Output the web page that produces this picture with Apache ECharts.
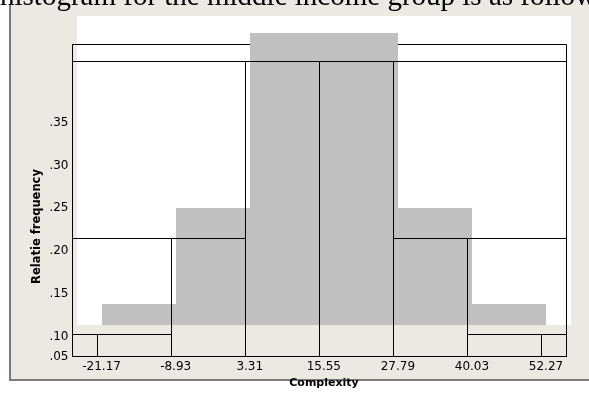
<!DOCTYPE html>
<html>
<head>
<meta charset="utf-8" />
<title>Relatie frequency - Complexity</title>
<script src="https://cdn.jsdelivr.net/npm/echarts@6/dist/echarts.min.js"></script>
<style>
  html, body { margin: 0; padding: 0; background: #fff; }
  #chart { width: 589px; height: 394px; }
</style>
</head>
<body>
<div id="chart"></div>
<script>
// bin edges (Complexity)
const binEdges = [-21.17, -8.93, 3.31, 15.55, 27.79, 40.03, 52.27];
// relative frequency of each bin
const relFreq = [0.102, 0.215, 0.4215, 0.4215, 0.215, 0.102];
// tick values on the y axis, the bottom one is labelled ".05"
const yTicks = [0.10, 0.15, 0.20, 0.25, 0.30, 0.35];
const yBottomLabel = ".05";

// axis extents, shared by the grey copy and the outlined copy
const xRange = [-25.235, 56.4];
const yRange = [0.0766, 0.4417];

const bins = relFreq.map((f, i) => [binEdges[i], binEdges[i + 1], f]);

const crisp = (v) => Math.round(v - 0.5) + 0.5;

const myChart = echarts.init(document.getElementById("chart"));

const option = {
  backgroundColor: "#fff",
  animation: false,
  graphic: [
    // beige panel with its grey shadow lines
    {
      type: "rect",
      z: -10,
      shape: { x: 11, y: 0, width: 578, height: 379 },
      style: { fill: "#ece9e3" },
    },
    {
      type: "line",
      shape: { x1: 10, y1: 4.5, x2: 10, y2: 381 },
      style: { stroke: "#7a7a7a", lineWidth: 2 },
    },
    {
      type: "line",
      shape: { x1: 9, y1: 380, x2: 589, y2: 380 },
      style: { stroke: "#7a7a7a", lineWidth: 2 },
    },
    {
      type: "text",
      x: 0,
      y: -2.5,
      style: {
        text: "histogram for the middle income group is as follows",
        font: '29px "Liberation Serif"',
        fill: "#000",
        align: "left",
        verticalAlign: "middle",
      },
    },
    {
      type: "text",
      x: 37.5,
      y: 226.5,
      rotation: Math.PI / 2,
      style: {
        text: "Relatie frequency",
        font: 'bold 11.5px "DejaVu Sans"',
        fill: "#000",
        align: "center",
        verticalAlign: "middle",
      },
    },
  ],
  grid: [
    {
      // white plot area of the grey histogram
      show: true,
      left: 77,
      top: 16,
      width: 494,
      height: 311,
      backgroundColor: "#fff",
      borderWidth: 0,
    },
    {
      // outlined frame
      show: true,
      left: 72.5,
      top: 44.5,
      width: 494,
      height: 312,
      backgroundColor: "transparent",
      borderColor: "#000",
      borderWidth: 1,
    },
  ],
  xAxis: [
    {
      type: "value",
      gridIndex: 0,
      min: xRange[0],
      max: xRange[1],
      axisLine: { show: false },
      axisTick: { show: false },
      splitLine: { show: false },
      axisLabel: {
        customValues: binEdges,
        margin: 36,
        color: "#000",
        fontFamily: "DejaVu Sans",
        fontSize: 12,
        formatter: (v) => v.toFixed(2),
      },
      name: "Complexity",
      nameLocation: "middle",
      nameGap: 53,
      nameTextStyle: {
        color: "#000",
        fontFamily: "DejaVu Sans",
        fontWeight: "bold",
        fontSize: 11,
      },
    },
    {
      type: "value",
      gridIndex: 1,
      min: xRange[0],
      max: xRange[1],
      show: false,
    },
  ],
  yAxis: [
    {
      type: "value",
      gridIndex: 0,
      min: yRange[0],
      max: yRange[1],
      show: false,
    },
    {
      type: "value",
      gridIndex: 1,
      min: yRange[0],
      max: yRange[1],
      axisLine: { show: false },
      axisTick: { show: false },
      splitLine: { show: false },
      axisLabel: {
        customValues: [yRange[0]].concat(yTicks),
        margin: 4,
        color: "#000",
        fontFamily: "DejaVu Sans",
        fontSize: 12,
        formatter: (v) =>
          v === yRange[0] ? yBottomLabel : v.toFixed(2).replace(/^0/, ""),
      },
    },
  ],
  series: [
    {
      // grey filled bars
      type: "custom",
      xAxisIndex: 0,
      yAxisIndex: 0,
      encode: { x: [0, 1], y: 2 },
      data: bins,
      renderItem: (params, api) => {
        const p0 = api.coord([api.value(0), yRange[0]]);
        const p1 = api.coord([api.value(1), api.value(2)]);
        const x0 = Math.round(p0[0]);
        const x1 = Math.round(p1[0]);
        const top = Math.round(p1[1]);
        const bottom = Math.round(p0[1]);
        return {
          type: "rect",
          shape: { x: x0, y: top, width: x1 - x0, height: bottom - top },
          style: { fill: "#c0c0c0" },
        };
      },
    },
    {
      // black outlined copy, each bar top also runs out to the frame side
      type: "custom",
      xAxisIndex: 1,
      yAxisIndex: 1,
      encode: { x: [0, 1], y: 2 },
      data: bins,
      z: 5,
      renderItem: (params, api) => {
        const cs = params.coordSys;
        const p0 = api.coord([api.value(0), yRange[0]]);
        const p1 = api.coord([api.value(1), api.value(2)]);
        const x0 = crisp(p0[0]);
        const x1 = crisp(p1[0]);
        const top = crisp(p1[1]);
        const bottom = crisp(p0[1]);
        const leftHalf = params.dataIndex < relFreq.length / 2;
        const ex0 = leftHalf ? crisp(cs.x) : x0;
        const ex1 = leftHalf ? x1 : crisp(cs.x + cs.width);
        const style = { fill: null, stroke: "#000", lineWidth: 1 };
        return {
          type: "group",
          children: [
            {
              type: "rect",
              shape: { x: x0, y: top, width: x1 - x0, height: bottom - top },
              style: style,
            },
            {
              type: "rect",
              shape: { x: ex0, y: top, width: ex1 - ex0, height: bottom - top },
              style: style,
            },
          ],
        };
      },
    },
  ],
};

myChart.setOption(option);
</script>
</body>
</html>
